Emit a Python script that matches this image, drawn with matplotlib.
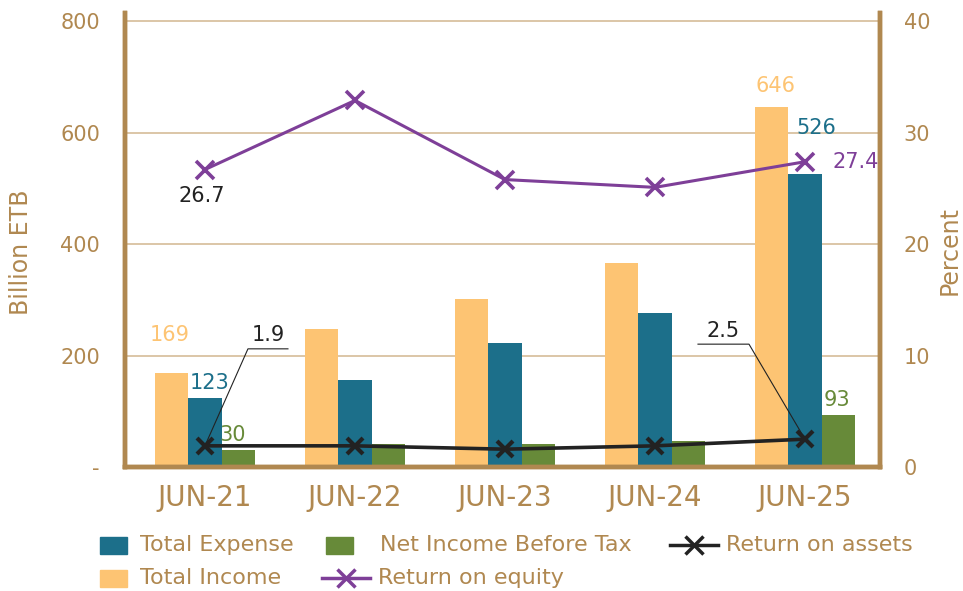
import numpy as np
import matplotlib
matplotlib.use('Agg')
import matplotlib.pyplot as plt
from matplotlib.patches import Rectangle
from matplotlib.lines import Line2D

# data
periods = ['JUN-21', 'JUN-22', 'JUN-23', 'JUN-24', 'JUN-25']
total_income = [169, 247, 301, 366, 646]
total_expense = [123, 157, 222, 276, 526]
net_income_bt = [30, 42, 42, 46, 93]
roe = [26.7, 32.9, 25.8, 25.1, 27.4]
roa = [1.9, 1.9, 1.6, 1.9, 2.5]

left_ticks = [0, 200, 400, 600, 800]
left_ticklabels = ['-', '200', '400', '600', '800']
right_ticks = [0, 10, 20, 30, 40]

c_income = '#FDC473'
c_expense = '#1C6F8A'
c_nibt = '#678A39'
c_roe = '#7E3F98'
c_roa = '#222222'
c_tan = '#B08850'
c_grid = '#D5BC98'

plt.rcParams['font.family'] = ['DejaVu Sans']

fig = plt.figure(figsize=(9.63, 5.91), dpi=100)
ax = fig.add_axes([0.1298, 0.2098, 0.7840, 0.7682])
ax2 = ax.twinx()

x = np.arange(len(periods))
w = 0.223
ax.bar(x - w, total_income, w, color=c_income, zorder=2)
ax.bar(x, total_expense, w, color=c_expense, zorder=2)
ax.bar(x + w, net_income_bt, w, color=c_nibt, zorder=2)

ax.set_xlim(-0.533, 4.5)
ax.set_ylim(0, 815)
ax2.set_ylim(0, 40.75)

ax.set_yticks(left_ticks)
ax.set_yticklabels(left_ticklabels)
ax2.set_yticks(right_ticks)
ax.set_xticks(x)
ax.set_xticklabels(periods)

ax.grid(axis='y', color=c_grid, lw=1.2, zorder=0)
ax.set_axisbelow(True)

for a in (ax, ax2):
    a.spines['top'].set_visible(False)
    for s in ('left', 'right', 'bottom'):
        a.spines[s].set_color(c_tan)
        a.spines[s].set_linewidth(3.2)
    a.tick_params(length=0, colors=c_tan, labelsize=15)
ax.tick_params(axis='x', labelsize=20, pad=12)
ax.tick_params(axis='y', pad=18)
ax2.tick_params(axis='y', pad=17)

ax.set_ylabel('Billion ETB', color=c_tan, fontsize=17)
ax.yaxis.set_label_coords(-0.122, 0.474)
ax2.set_ylabel('Percent', color=c_tan, fontsize=17, rotation=90)
ax2.yaxis.set_label_coords(1.077, 0.476)

# lines on secondary axis
ax2.plot(x, roe, color=c_roe, lw=2.2, marker='x', ms=13, mew=2.6, zorder=5)
ax2.plot(x, roa, color=c_roa, lw=2.6, marker='x', ms=12, mew=3, zorder=5)

# data labels
lab = dict(fontsize=15, ha='center', va='bottom', textcoords='offset points')
ax.annotate(str(total_income[0]), (x[0] - w, total_income[0]), xytext=(-1, 20), color=c_income, **lab)
ax.annotate(str(total_income[4]), (x[4] - w, total_income[4]), xytext=(3, 8), color=c_income, **lab)
ax.annotate(str(total_expense[0]), (x[0], total_expense[0]), xytext=(3, 4), color=c_expense, **lab)
ax.annotate(str(total_expense[4]), (x[4], total_expense[4]), xytext=(8, 26), color=c_expense, **lab)
ax.annotate(str(net_income_bt[0]), (x[0] + w, net_income_bt[0]), xytext=(-4, 4), color=c_nibt, **lab)
ax.annotate(str(net_income_bt[4]), (x[4] + w, net_income_bt[4]), xytext=(-1, 4), color=c_nibt, **lab)

ax2.annotate(f'{roe[0]:.1f}', (x[0], roe[0]), xytext=(-2, -12), color=c_roa,
             fontsize=15, ha='center', va='top', textcoords='offset points')
ax2.annotate(f'{roe[4]:.1f}', (x[4], roe[4]), xytext=(20, 0), color=c_roe,
             fontsize=15, ha='left', va='center', textcoords='offset points')

# ROA labels with leader lines (offsets in pixels)
inv = fig.transFigure.inverted()
for i, kx, ky, hx in ((0, 43, 97, 40), (4, -56, 95, -51)):
    base = ax2.transData.transform((x[i], roa[i]))
    p0 = base + np.array([kx, ky])
    p1 = p0 + np.array([hx, 0])
    q_base, q0, q1 = inv.transform(base), inv.transform(p0), inv.transform(p1)
    fig.add_artist(Line2D([q_base[0], q0[0], q1[0]], [q_base[1], q0[1], q1[1]], color=c_roa, lw=0.8))
    tx = (q0[0] + q1[0]) / 2
    fig.text(tx, q0[1] + 0.006, f'{roa[i]:.1f}', color=c_roa, fontsize=15, ha='center', va='bottom')

# manual legend
leg_font = dict(fontsize=16, color=c_tan, va='center')
H = 591.0
W = 963.0
def fx(px):
    return px / W
def fy(py):
    return 1 - py / H

def square(px, py, color):
    fig.add_artist(Rectangle((fx(px), fy(py + 9)), 27 / W, 17 / H, color=color, transform=fig.transFigure))

def xline(px, py, color):
    fig.add_artist(Line2D([fx(px), fx(px + 24), fx(px + 48)], [fy(py)] * 3, color=color, lw=2.5,
                          marker='x', markevery=[1], ms=13, mew=2.5))

square(100, 545, c_expense)
fig.text(fx(140), fy(545), 'Total Expense', **leg_font)
square(100, 578, c_income)
fig.text(fx(140), fy(578), 'Total Income', **leg_font)
square(326, 545, c_nibt)
fig.text(fx(380), fy(545), 'Net Income Before Tax', **leg_font)
xline(322, 578, c_roe)
fig.text(fx(378), fy(578), 'Return on equity', **leg_font)
xline(670, 545, c_roa)
fig.text(fx(726), fy(545), 'Return on assets', **leg_font)

fig.savefig('out.png', dpi=100)
